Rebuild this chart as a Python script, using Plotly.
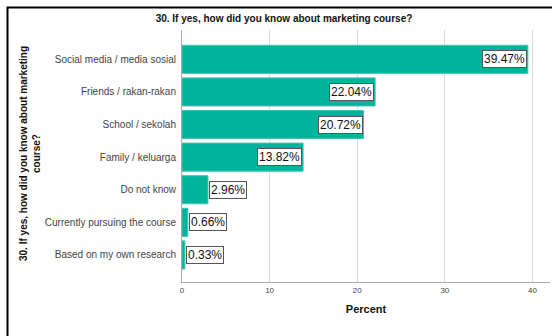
import plotly.graph_objects as go

categories = ["Social media / media sosial", "Friends / rakan-rakan", "School / sekolah",
              "Family / keluarga", "Do not know", "Currently pursuing the course",
              "Based on my own research"]
percents = [39.47, 22.04, 20.72, 13.82, 2.96, 0.66, 0.33]
x_ticks = [0, 10, 20, 30, 40]

W, H = 552, 336
ml, mr, mt, mb = 182, 2, 30, 54
pw, ph = W - ml - mr, H - mt - mb

fig = go.Figure()
fig.add_trace(go.Bar(
    y=categories, x=percents, orientation="h",
    marker=dict(color="#00b39b", line=dict(color="#3cc4ae", width=1)),
    width=0.86, hoverinfo="skip",
))

for c, v in zip(categories, percents):
    inside = v > 10
    fig.add_annotation(
        x=v, y=c, text=f"{v:.2f}%", showarrow=False,
        xanchor="right" if inside else "left", yanchor="middle",
        xshift=-1 if inside else 1,
        font=dict(family="Arial, Liberation Sans", size=12, color="#111"),
        bgcolor="white", bordercolor="#555", borderwidth=1, borderpad=1,
    )

# y-axis title as rotated annotation
fig.add_annotation(
    xref="paper", yref="paper",
    x=(30 - ml) / pw, y=1 - (154 - mt) / ph,
    text="<b>30. If yes, how did you know about marketing<br>course?</b>",
    textangle=-90, showarrow=False, xanchor="center", yanchor="middle",
    font=dict(family="Arial, Liberation Sans", size=10, color="#111"),
)

# outer frame (left + top visible)
fig.add_shape(type="rect", xref="paper", yref="paper",
              x0=(7.5 - ml) / pw, x1=1.2,
              y0=-0.5, y1=1 + (mt - 7.5) / ph,
              line=dict(color="black", width=2), layer="above")

fig.update_layout(
    width=W, height=H,
    margin=dict(l=ml, r=mr, t=mt, b=mb),
    paper_bgcolor="white", plot_bgcolor="white",
    showlegend=False,
    font=dict(family="Arial, Liberation Sans"),
    title=dict(text="<b>30. If yes, how did you know about marketing course?</b>",
               x=284 / W, xref="container", xanchor="center", y=1 - 18 / H, yanchor="middle",
               font=dict(size=10, color="#111")),
    xaxis=dict(range=[0, 42], tickvals=x_ticks, ticktext=[str(t) for t in x_ticks],
               showgrid=True, gridcolor="#d9d9d9", gridwidth=1,
               showline=True, linecolor="#aaaaaa", linewidth=1,
               zeroline=False, ticks="", tickfont=dict(size=8, color="#444"),
               title=dict(text="<b>Percent</b>", font=dict(size=11, color="#111"), standoff=11)),
    yaxis=dict(categoryorder="array", categoryarray=categories[::-1],
               range=[-0.83, 6.9], showgrid=False,
               showline=True, linecolor="#aaaaaa", linewidth=1,
               ticks="", ticklabelstandoff=3, tickfont=dict(size=10, color="#444")),
)

fig.write_html("out.html")
